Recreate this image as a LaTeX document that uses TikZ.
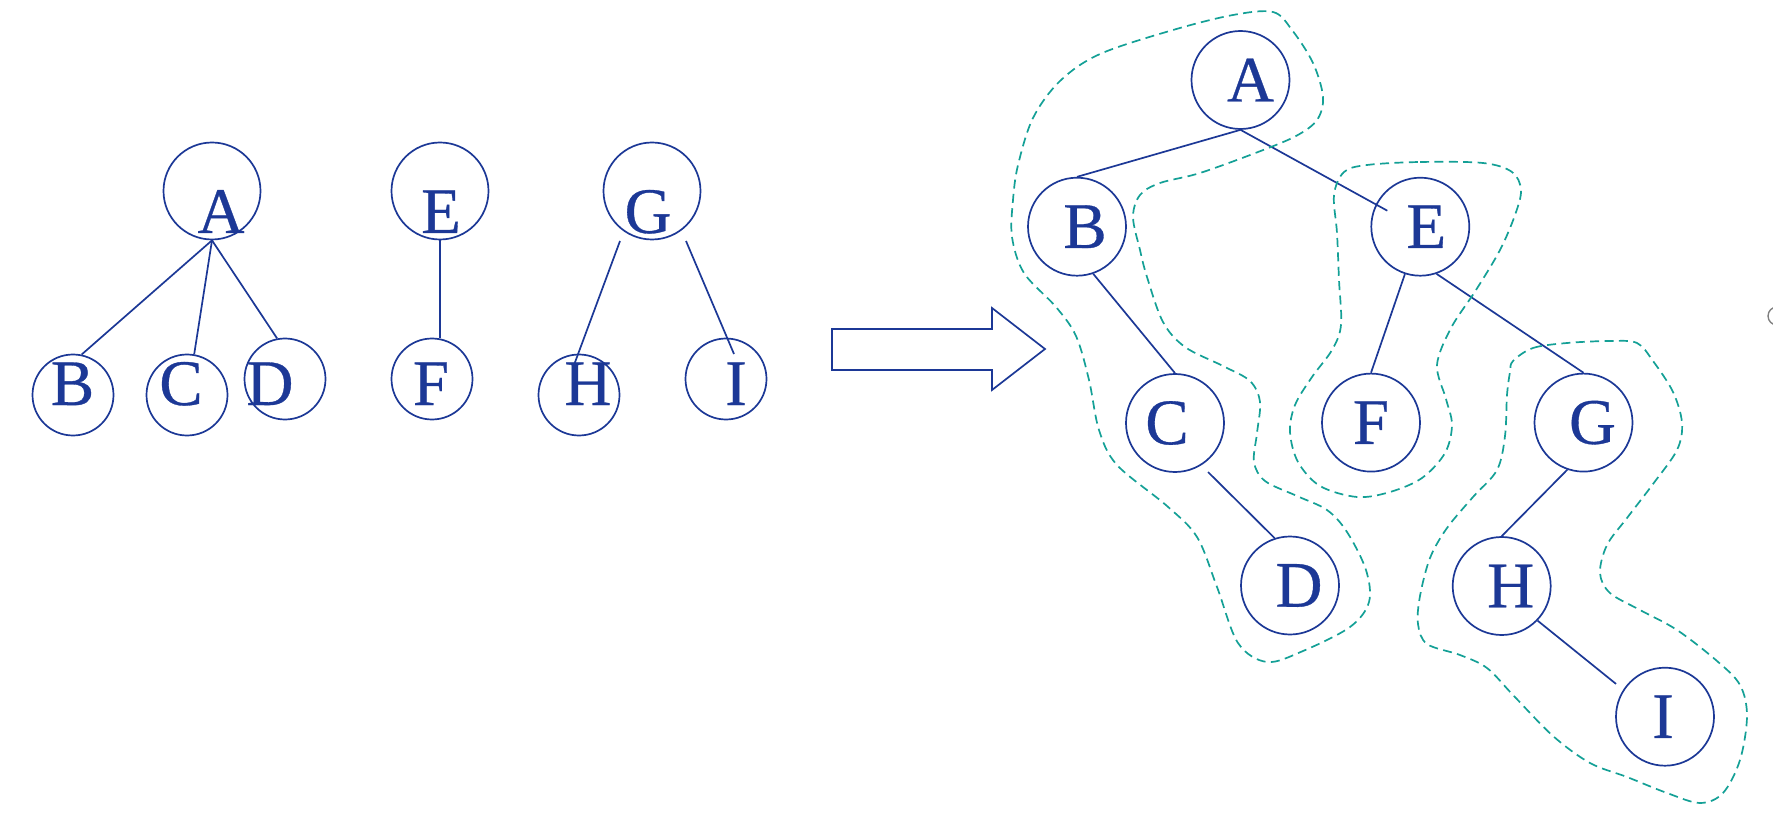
\documentclass[tikz,border=0pt]{standalone}
\usepackage{fontspec}
\setmainfont{Liberation Serif}
\newfontface\treeface{Liberation Serif}[FakeBold=0.5]
\usetikzlibrary{calc}
\definecolor{treeblue}{RGB}{28,56,150}
\definecolor{blobteal}{RGB}{20,160,150}
\begin{document}
\begin{tikzpicture}[x=0.5pt,y=-0.5pt,
  treefont/.style={font=\treeface\fontsize{32.5}{34}\selectfont},
  bignode/.style={circle,draw=treeblue,line width=0.85pt,minimum size=49pt,inner sep=0pt},
  smallnode/.style={circle,draw=treeblue,line width=0.85pt,minimum size=40.5pt,inner sep=0pt},
  letter/.style={anchor=base,inner sep=0pt,text=treeblue,treefont},
  inletter/.style={inner sep=0pt,text=treeblue,treefont},
  edge/.style={draw=treeblue,line width=0.85pt},
  blob/.style={draw=blobteal,line width=0.85pt,dash pattern=on 4.5pt off 2.7pt},
]
\useasboundingbox (0,0) rectangle (1773,834);

% ---------- forest of three trees ----------
\node[bignode,minimum size=48.5pt] (fA) at (212,191) {};
\node[bignode,minimum size=48.5pt] (fE) at (440,191) {};
\node[bignode,minimum size=48.5pt] (fG) at (652,191) {};
\node[smallnode] (fB) at (73,395) {};
\node[smallnode] (fC) at (187,395) {};
\node[smallnode] (fD) at (285,379) {};
\node[smallnode] (fF) at (432,379) {};
\node[smallnode] (fH) at (579,395) {};
\node[smallnode] (fI) at (726,379) {};

\node[letter] (tA) at (221,233) {A};
\node[letter] (tE) at (441,233) {E};
\node[letter] (tG) at (648,233) {G};
\node[letter] (tB) at (72.5,405) {B};
\node[letter] (tC) at (181,405) {C};
\node[letter] (tD) at (270,405) {D};
\node[letter] (tF) at (431,405) {F};
\node[letter] (tH) at (588,405) {H};
\node[letter] (tI) at (736,405) {I};

\draw[edge] (fA.south) -- (fB.78);
\draw[edge] (fA.south) -- (fC.80);
\draw[edge] (fA.south) -- (fD.101);
\draw[edge] (fE.south) -- (fF.north -| fE.south);
\coordinate (gl) at ($(fG)+(-32,50)$);
\coordinate (gr) at ($(fG)+(34,50)$);
\coordinate (hin) at ($(fH)+(-5,-30)$);
\coordinate (iin) at ($(fI)+(8,-25)$);
\draw[edge] (gl) -- (hin);
\draw[edge] (gr) -- (iin);

% ---------- hollow block arrow ----------
\draw[edge] (832,329) -- (992,329) -- (992,308) -- (1045,349) -- (992,390)
  -- (992,370) -- (832,370) -- cycle;

% ---------- binary tree ----------
\node[bignode,label={[inletter,xshift=5pt]center:A}] (A) at (1240.5,80) {};
\node[bignode,label={[inletter,xshift=4pt]center:B}] (B) at (1077,226.7) {};
\node[bignode,label={[inletter,xshift=3pt]center:E}] (E) at (1420.3,226.7) {};
\node[bignode,label={[inletter,xshift=-4pt]center:C}] (C) at (1175,423) {};
\node[bignode,label={[inletter]center:F}] (F) at (1371,422.6) {};
\node[bignode,label={[inletter,xshift=4.5pt]center:G}] (G) at (1583.5,422.6) {};
\node[bignode,label={[inletter,xshift=4.5pt]center:D}] (D) at (1290,585.5) {};
\node[bignode,label={[inletter,xshift=4.5pt]center:H}] (H) at (1501.7,586) {};
\node[bignode,label={[inletter,xshift=-1pt]center:I}] (I) at (1665,716.7) {};

\coordinate (eIn) at ($(E)+(-33,-16)$);
\coordinate (cOut) at ($(C)+(33,49)$);
\coordinate (iOut) at ($(I)+(-49,-32.8)$);
\draw[edge] (A.south) -- (B.north);
\draw[edge] (A.south) -- (eIn);
\draw[edge] (B.-71) -- (C.north);
\draw[edge] (cOut) -- (D.108);
\draw[edge] (E.-108) -- (F.north);
\draw[edge] (E.-71) -- (G.north);
\draw[edge] (G.-109) -- (H.north);
\draw[edge] (H.-44) -- (iOut);

% ---------- dashed outlines of the three subtrees ----------
\draw[blob] plot[smooth cycle,tension=0.55] coordinates {
  (1233,15) (1273,12) (1292,30) (1313,63) (1323,97) (1317,120) (1296,136)
  (1258,152) (1200,173) (1160,183) (1140,195) (1133,217) (1140,250) (1147,277)
  (1163,322) (1185,347) (1223,366) (1250,381) (1260,402) (1257,433) (1254,462)
  (1265,481) (1297,496) (1327,510) (1347,532) (1366,570) (1369,602) (1350,627)
  (1303,651) (1267,662) (1238,643) (1217,587) (1197,537) (1167,506) (1117,465)
  (1099,430) (1089,380) (1076,336) (1056,307) (1024,273) (1012,237) (1013,200)
  (1018,165) (1033,118) (1060,81) (1100,54) (1173,30)};
\draw[blob] plot[smooth cycle,tension=0.55] coordinates {
  (1367,165) (1420,162) (1483,163) (1512,172) (1521,190) (1515,215) (1500,250)
  (1476,290) (1451,328) (1437,365) (1446,399) (1452,425) (1445,453) (1422,478)
  (1390,492) (1357,497) (1320,486) (1298,462) (1290,432) (1295,405) (1312,377)
  (1332,350) (1341,325) (1339,280) (1337,233) (1334,195) (1344,172)};
\draw[blob] plot[smooth cycle,tension=0.55] coordinates {
  (1513,361) (1533,348) (1567,343) (1610,341) (1637,343) (1653,361) (1673,392)
  (1682,423) (1677,450) (1653,484) (1627,518) (1607,545) (1600,573) (1610,593)
  (1640,610) (1677,630) (1717,661) (1740,685) (1747,716) (1740,760) (1723,793)
  (1700,803) (1667,793) (1627,777) (1590,763) (1553,736) (1513,695) (1487,668)
  (1460,655) (1427,644) (1418,624) (1420,596) (1430,558) (1447,528) (1473,497)
  (1497,470) (1505,436) (1507,395) (1510,372)};

% ---------- small grey ring at the right edge ----------
\draw[gray,line width=0.7pt] (1777,316) circle[radius=4.5pt];
\end{tikzpicture}
\end{document}
